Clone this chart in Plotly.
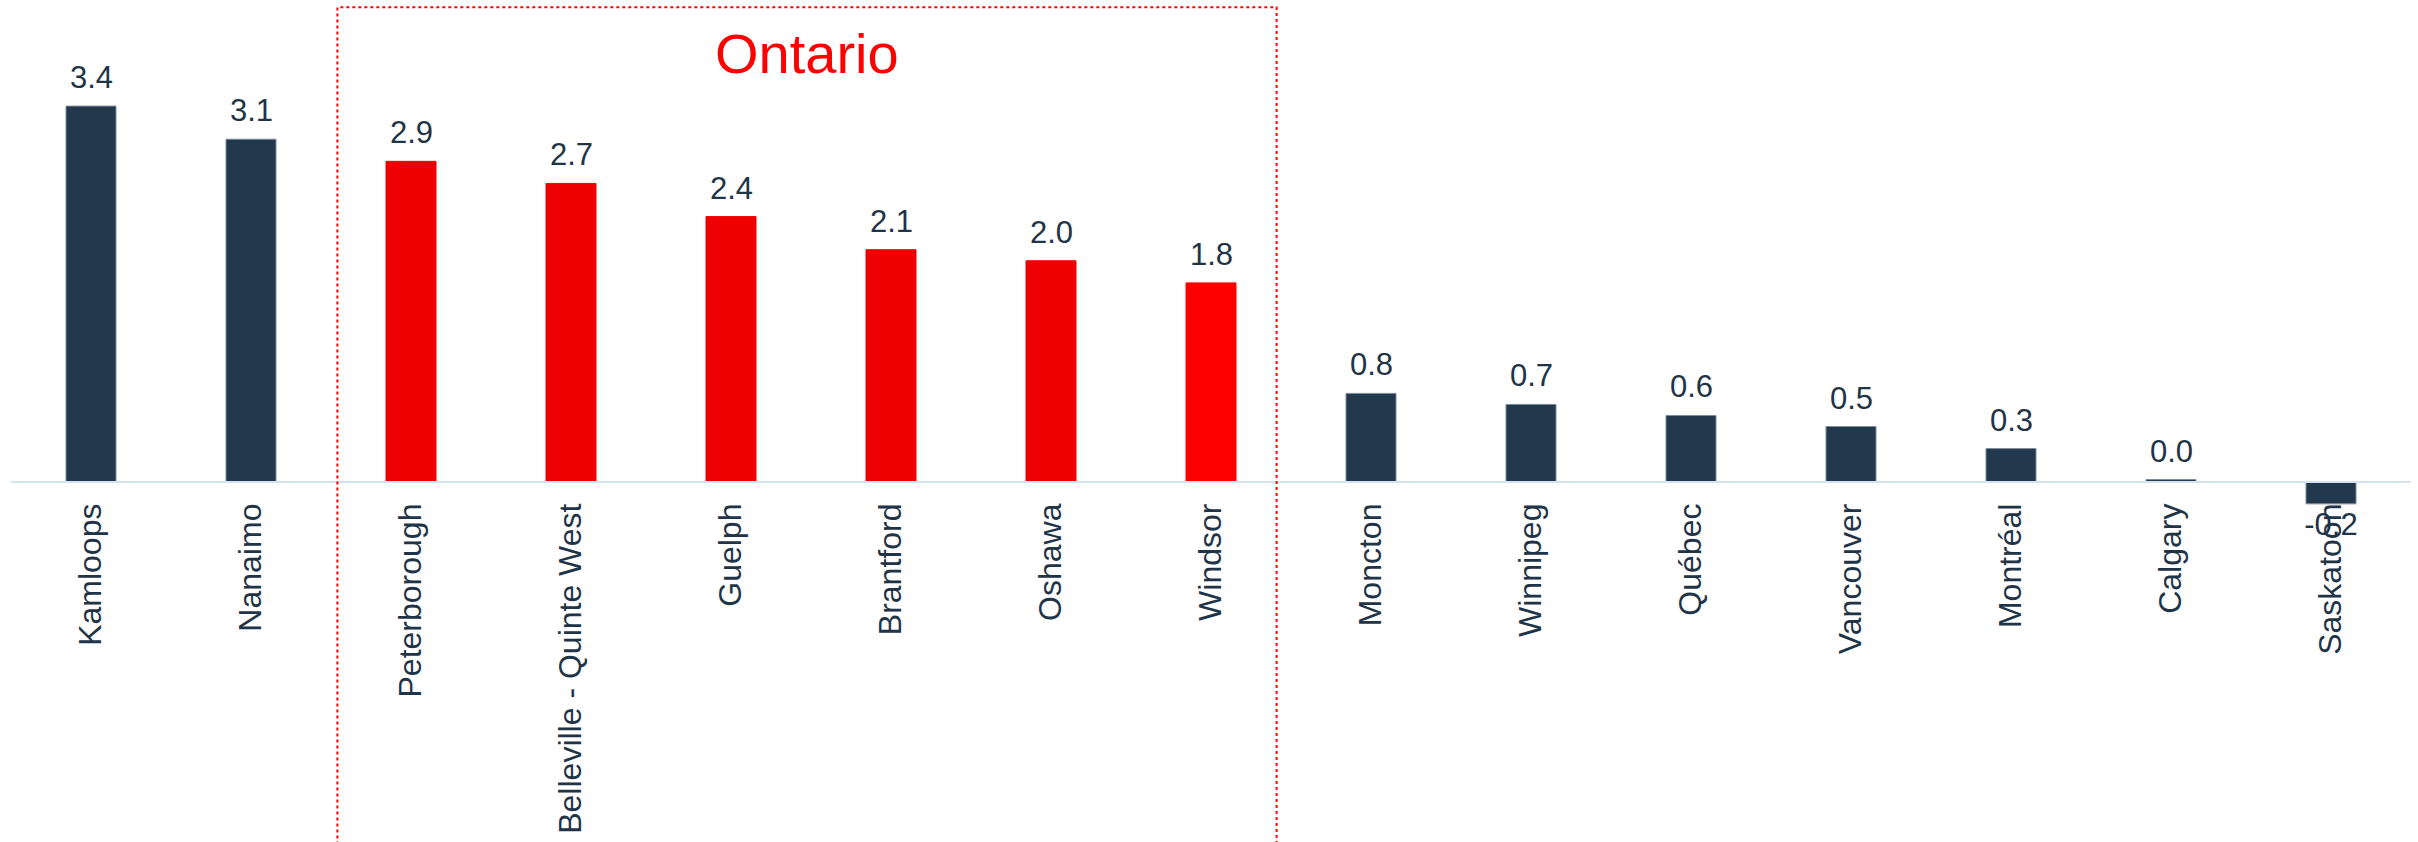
import plotly.graph_objects as go

# Data
cities = ["Kamloops", "Nanaimo", "Peterborough", "Belleville - Quinte West", "Guelph",
          "Brantford", "Oshawa", "Windsor", "Moncton", "Winnipeg", "Québec",
          "Vancouver", "Montréal", "Calgary", "Saskatoon"]
values = [3.4, 3.1, 2.9, 2.7, 2.4, 2.1, 2.0, 1.8, 0.8, 0.7, 0.6, 0.5, 0.3, 0.02, -0.2]
ontario = ["Peterborough", "Belleville - Quinte West", "Guelph", "Brantford", "Oshawa", "Windsor"]

NAVY = "#22384c"
TEXT = "#1f3447"
RED = "#ee0000"
BRIGHT_RED = "#ff0000"
FONT = "Liberation Sans, Arial, sans-serif"

bar_colors = []
line_colors = []
for c in cities:
    if c == "Windsor":
        bar_colors.append(BRIGHT_RED)
        line_colors.append(BRIGHT_RED)
    elif c in ontario:
        bar_colors.append(RED)
        line_colors.append(RED)
    else:
        bar_colors.append(NAVY)
        line_colors.append("#7d8d9c")

# negative bars keep the bar's own outside label (auto-rotated); positive ones get annotations
bar_text = ["%{y:.1f}" if v < 0 else "" for v in values]

W, H = 2418, 842
fig = go.Figure()
fig.add_trace(go.Bar(
    x=cities, y=values,
    marker=dict(color=bar_colors, line=dict(color=line_colors, width=1)),
    texttemplate=bar_text, textposition="outside",
    textfont=dict(size=31, color=TEXT, family=FONT),
    cliponaxis=False, constraintext="none",
))

for c, v in zip(cities, values):
    if v >= 0:
        fig.add_annotation(x=c, y=v, xref="x", yref="y", text=f"{v:.1f}",
                           showarrow=False, yanchor="bottom", xanchor="center",
                           yshift=9, font=dict(size=31, color=TEXT, family=FONT))

# Ontario group outline spanning the provincial cities
i0 = cities.index(ontario[0])
i1 = cities.index(ontario[-1])
bx0, bx1 = i0 - 0.46, i1 + 0.41
fig.add_shape(type="rect", xref="x", yref="paper", x0=bx0, x1=bx1, y0=-0.02, y1=0.9913,
              line=dict(color="#ff0000", width=2, dash="dot"), fillcolor="rgba(0,0,0,0)",
              layer="above")
fig.add_annotation(x=(bx0 + bx1) / 2, y=0.937, xref="x", yref="paper", text="Ontario",
                   showarrow=False, font=dict(size=56, color="#ff0000", family=FONT),
                   xanchor="center", yanchor="middle")

ymax, ymin = 4.36, -3.26
fig.update_layout(
    width=W, height=H,
    margin=dict(l=11, r=7, t=0, b=0),
    plot_bgcolor="white", paper_bgcolor="white",
    bargap=0.6875, showlegend=False,
    font=dict(family=FONT, color=TEXT),
    xaxis=dict(
        anchor="free", position=-ymin / (ymax - ymin),
        showline=True, linecolor="#d3e3f1", linewidth=2,
        showgrid=False, ticks="", tickangle=-90, ticklabelstandoff=8,
        tickfont=dict(size=32, color=TEXT), range=[-0.5, 14.5],
    ),
    yaxis=dict(range=[ymin, ymax], visible=False, showgrid=False, zeroline=False),
)

fig.write_html("out.html")
